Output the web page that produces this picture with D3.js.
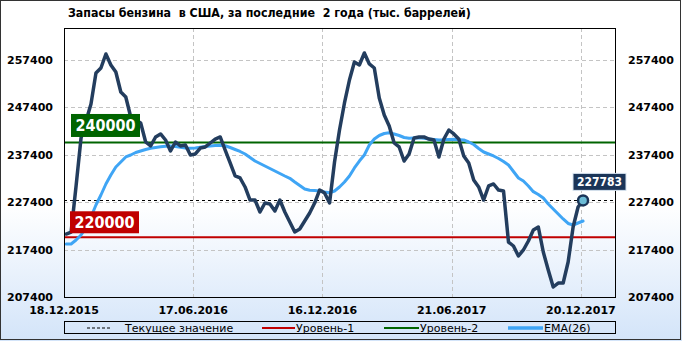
<!DOCTYPE html>
<html>
<head>
<meta charset="utf-8">
<script src="https://cdn.jsdelivr.net/npm/d3@7"></script>
<style>
  html, body { margin: 0; padding: 0; background: #fff; }
  svg { display: block; }
</style>
</head>
<body>
<svg id="chart" width="682" height="341"></svg>
<script>
// Weekly gasoline stocks, thousand barrels (first week 21.12.2015)
const stocks = [
  220690, 221110, 230820, 240940, 244530, 248120, 254660, 255710, 258670, 256350,
  254870, 250650, 249590, 245370, 244740, 244110, 240100, 239260, 241160, 241790,
  240520, 238200, 240100, 239260, 239470, 237360, 237570, 238830, 239050, 239890,
  240730, 241160, 238410, 235670, 232930, 232510, 230610, 227860, 227860, 225330,
  227230, 227020, 225540, 227860, 225330, 223220, 221110, 221750, 223430, 225120,
  227230, 229970, 229340, 227230, 235880, 242630, 248330, 253180, 256980, 256350,
  258880, 256560, 255710, 249380, 245800, 243480, 239890, 239050, 236090, 237570,
  240940, 241160, 241160, 240730, 240520, 236940, 240730, 242630, 241790, 240730,
  237150, 235670, 232080, 230610, 227860, 230820, 231240, 229970, 229760, 219000,
  218160, 216050, 217320, 219210, 221540, 222170, 216890, 213100, 209510, 210350,
  210350, 214780, 222170, 226390, 227783
];

const ema26 = [
  218580, 218580, 219420, 220480, 221960, 224280, 226810, 228920, 231240, 233140,
  234830, 235880, 236940, 237360, 237890, 238200, 238520, 238790, 238940, 239110,
  239190, 239260, 239150, 238980, 238830, 238770, 238830, 238980, 239130, 239260,
  239340, 239400, 239300, 238940, 238520, 238100, 237570, 236830, 236090, 235560,
  235040, 234510, 233980, 233460, 232930, 232440, 231660, 230920, 230190, 229910,
  229850, 229760, 229550, 229400, 229760, 230610, 231660, 232930, 234620, 236090,
  237360, 239470, 240730, 241470, 241890, 242040, 241790, 241470, 241050, 240880,
  240940, 240990, 240880, 240730, 240630, 240520, 240560, 240630, 240670, 240590,
  240520, 240100, 239570, 238730, 237990, 237570, 237150, 236620, 235990, 235250,
  233880, 232510, 231870, 230820, 229620, 229020, 228290, 227020, 225970, 224910,
  223860, 222910, 222590, 223010, 223430
];

const tickLabels = ['18.12.2015', '17.06.2016', '16.12.2016', '21.06.2017', '20.12.2017'];
const yTicks = [207400, 217400, 227400, 237400, 247400, 257400];
const level1 = 220000;
const level2 = 240000;
const currentValue = 227783;
const legendItems = ['Текущее значение', 'Уровень-1', 'Уровень-2', 'EMA(26)'];

const axisStart = new Date(2015, 11, 18);
const firstWeek = new Date(2015, 11, 21);

function renderChart() {
    const W = 682, H = 341;
    const plot = { left: 64, right: 615, top: 28, bottom: 297 };
    const svg = d3.select('#chart');

    const fontBold = "'DejaVu Sans', Verdana, sans-serif";
    const fontCond = "'DejaVu Sans Condensed', 'DejaVu Sans', sans-serif";

    // background gradient
    const defs = svg.append('defs');
    const grad = defs.append('linearGradient')
        .attr('id', 'bg').attr('x1', 0).attr('y1', 0).attr('x2', 0).attr('y2', 1);
    grad.append('stop').attr('offset', '0').attr('stop-color', '#ffffff');
    grad.append('stop').attr('offset', '0.6').attr('stop-color', '#ffffff');
    grad.append('stop').attr('offset', '1').attr('stop-color', '#d3e4f9');

    defs.append('clipPath').attr('id', 'clip')
        .append('rect')
        .attr('x', plot.left).attr('y', plot.top)
        .attr('width', plot.right - plot.left).attr('height', plot.bottom - plot.top);

    svg.append('rect').attr('width', W).attr('height', H).attr('fill', 'url(#bg)');
    svg.append('rect')
        .attr('x', 0.5).attr('y', 0.5).attr('width', W - 2).attr('height', H - 2)
        .attr('fill', 'none').attr('stroke', '#333');

    const x = d3.scaleTime()
        .domain([axisStart, d3.timeDay.offset(axisStart, 776)])
        .range([plot.left, plot.right]);
    const y = d3.scaleLinear()
        .domain([207400, 264150])
        .range([plot.bottom, plot.top]);

    const dates = stocks.map((_, i) => d3.timeDay.offset(firstWeek, 7 * i));
    const tickDates = tickLabels.map((_, k) => d3.timeDay.offset(axisStart, 182 * k));

    // grid
    const grid = svg.append('g')
        .attr('stroke', '#c4c4c4').attr('stroke-dasharray', '4,3').attr('stroke-width', 1);
    grid.selectAll('.hg').data(yTicks.slice(1)).enter().append('line')
        .attr('x1', plot.left).attr('x2', plot.right)
        .attr('y1', d => Math.round(y(d)) + 0.5).attr('y2', d => Math.round(y(d)) + 0.5);
    grid.selectAll('.vg').data(tickDates.slice(1)).enter().append('line')
        .attr('x1', d => Math.round(x(d)) + 0.5).attr('x2', d => Math.round(x(d)) + 0.5)
        .attr('y1', plot.top).attr('y2', plot.bottom);

    const g = svg.append('g').attr('clip-path', 'url(#clip)');

    // level lines
    g.append('line')
        .attr('x1', plot.left).attr('x2', plot.right)
        .attr('y1', y(level1)).attr('y2', y(level1))
        .attr('stroke', '#c00000').attr('stroke-width', 2);
    g.append('line')
        .attr('x1', plot.left).attr('x2', plot.right)
        .attr('y1', y(level2)).attr('y2', y(level2))
        .attr('stroke', '#006400').attr('stroke-width', 2);
    g.append('line')
        .attr('x1', plot.left).attr('x2', plot.right)
        .attr('y1', Math.round(y(currentValue)) + 0.5).attr('y2', Math.round(y(currentValue)) + 0.5)
        .attr('stroke', '#000').attr('stroke-width', 1).attr('stroke-dasharray', '3,3');

    const line = d3.line().x((d, i) => x(dates[i])).y(d => y(d));

    g.append('path').datum(ema26)
        .attr('d', line).attr('fill', 'none')
        .attr('stroke', '#3fa5f5').attr('stroke-width', 3)
        .attr('stroke-linejoin', 'round').attr('stroke-linecap', 'round');
    g.append('path').datum(stocks)
        .attr('d', line).attr('fill', 'none')
        .attr('stroke', '#233d5e').attr('stroke-width', 3.5)
        .attr('stroke-linejoin', 'round').attr('stroke-linecap', 'round');

    const last = stocks.length - 1;
    svg.append('circle')
        .attr('cx', x(dates[last])).attr('cy', y(stocks[last])).attr('r', 5)
        .attr('fill', '#6cbcd6').attr('stroke', '#1b3558').attr('stroke-width', 2.5);

    // plot frame
    svg.append('rect')
        .attr('x', plot.left + 0.5).attr('y', plot.top + 0.5)
        .attr('width', plot.right - plot.left).attr('height', plot.bottom - plot.top)
        .attr('fill', 'none').attr('stroke', '#000');

    // level badges
    function badge(cx, cy, w, h, fill, value, size, stroke) {
        svg.append('rect')
            .attr('x', cx - w / 2).attr('y', cy - h / 2).attr('width', w).attr('height', h)
            .attr('fill', fill).attr('stroke', stroke || 'none');
        svg.append('text')
            .attr('x', cx).attr('y', cy).attr('dy', '0.36em')
            .attr('text-anchor', 'middle')
            .attr('font-family', fontCond).attr('font-weight', 'bold')
            .attr('font-size', size).attr('fill', '#fff')
            .text(d3.format('d')(value));
    }
    badge(105.5, y(level2) - 17, 69, 23, '#006400', level2, 16);
    badge(104.5, y(level1) - 15, 69, 22, '#c00000', level1, 16);
    badge(599.5, y(currentValue) - 18.5, 53, 17, '#1b3558', currentValue, 12, '#d8e4f0');

    // axis labels
    const tickFmt = d3.format('d');
    svg.append('g').selectAll('text').data(yTicks).enter().append('text')
        .attr('x', 53).attr('y', d => y(d)).attr('dy', '0.36em')
        .attr('text-anchor', 'end')
        .attr('font-family', fontBold).attr('font-weight', 'bold').attr('font-size', 11)
        .text(tickFmt);
    svg.append('g').selectAll('text').data(yTicks).enter().append('text')
        .attr('x', 628).attr('y', d => y(d)).attr('dy', '0.36em')
        .attr('font-family', fontBold).attr('font-weight', 'bold').attr('font-size', 11)
        .text(tickFmt);
    svg.append('g').selectAll('text').data(tickDates).enter().append('text')
        .attr('x', d => x(d)).attr('y', 313.5)
        .attr('text-anchor', 'middle')
        .attr('font-family', fontBold).attr('font-weight', 'bold').attr('font-size', 11)
        .text((d, i) => tickLabels[i]);

    // title
    svg.append('text')
        .attr('x', 68).attr('y', 17)
        .style('white-space', 'pre')
        .attr('font-family', fontCond).attr('font-weight', 'bold').attr('font-size', 12.3)
        .text('Запасы бензина  в США, за последние  2 года (тыс. баррелей)');

    // legend
    const leg = svg.append('g');
    leg.append('rect')
        .attr('x', 64.5).attr('y', 321.5).attr('width', 551).attr('height', 12)
        .attr('fill', 'none').attr('stroke', '#000');
    const ly = 328;
    const samples = [
        { x1: 87, x2: 112, color: '#000', w: 1, dash: '3,2', tx: 125 },
        { x1: 262, x2: 295, color: '#c00000', w: 2, dash: null, tx: 296 },
        { x1: 384, x2: 419, color: '#006400', w: 2, dash: null, tx: 420 },
        { x1: 508, x2: 543, color: '#3fa5f5', w: 3.5, dash: null, tx: 544 }
    ];
    samples.forEach((s, i) => {
        leg.append('line')
            .attr('x1', s.x1).attr('x2', s.x2).attr('y1', ly).attr('y2', ly)
            .attr('stroke', s.color).attr('stroke-width', s.w)
            .attr('stroke-dasharray', s.dash);
        leg.append('text')
            .attr('x', s.tx).attr('y', ly).attr('dy', '0.36em')
            .attr('font-family', "'DejaVu Sans', sans-serif").attr('font-size', 11)
            .attr('fill', '#000')
            .text(legendItems[i]);
    });
}

renderChart();
</script>
</body>
</html>
